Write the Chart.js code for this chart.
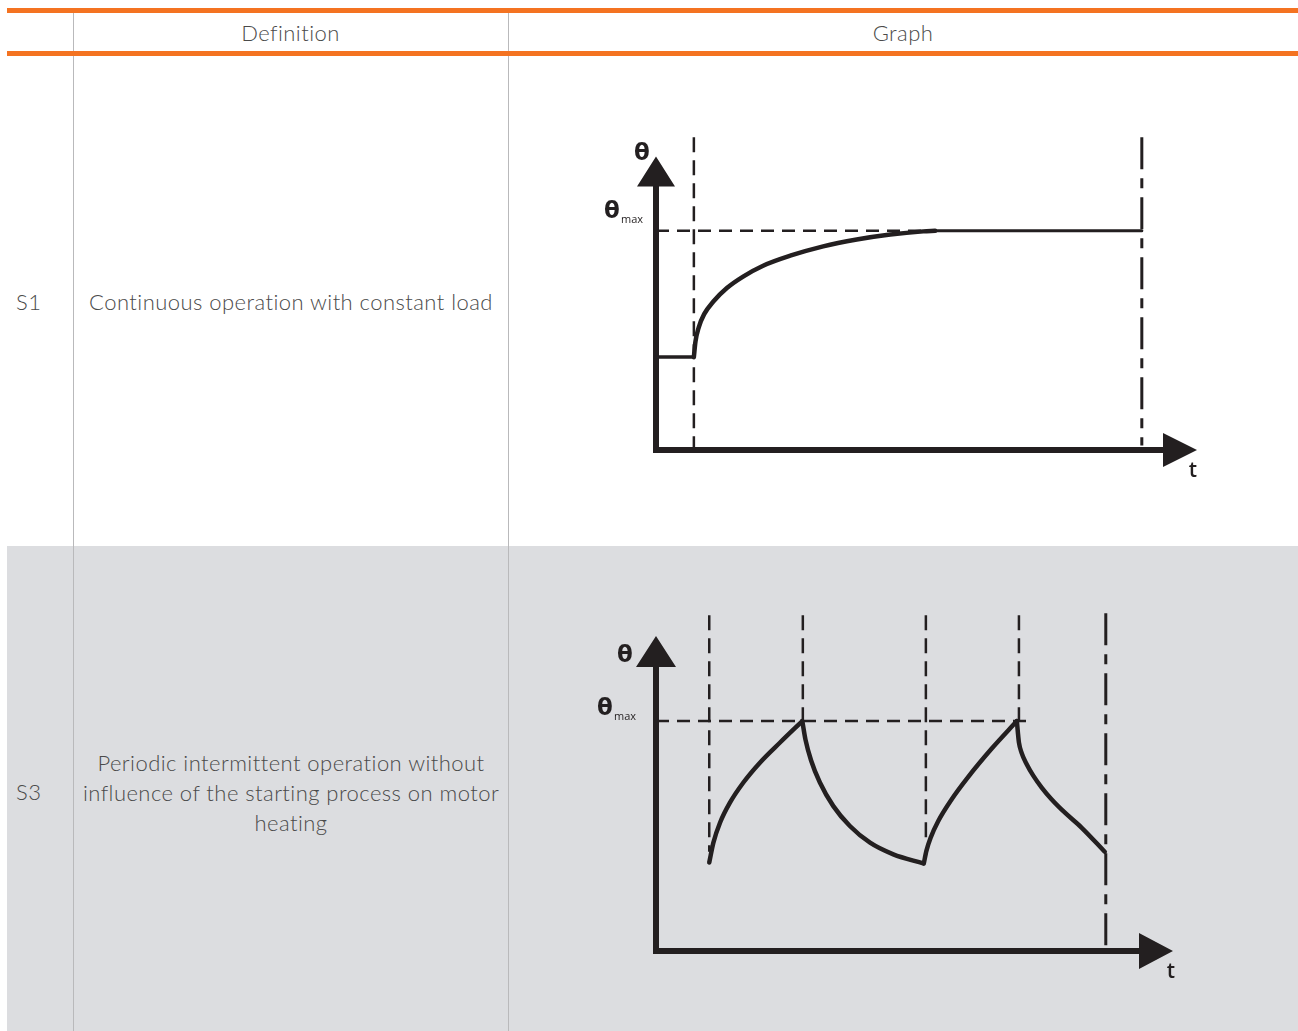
<!DOCTYPE html>
<html>
<head>
<meta charset="utf-8">
<script src="https://cdn.jsdelivr.net/npm/chart.js@4.4.1/dist/chart.umd.min.js"></script>
<style>
  html, body { margin: 0; padding: 0; background: #fff; }
  #page { position: relative; width: 1298px; height: 1031px; overflow: hidden;
          font-family: Lato, "Open Sans", sans-serif; font-weight: 300; color: #4a4a4a; }
  .band { position: absolute; left: 7px; width: 1291px; }
  .orange { height: 5px; background: #f47321; }
  .grey { top: 546px; height: 485px; background: #dcdde0; }
  .vline { position: absolute; top: 8px; bottom: 0; width: 1px; background: #b9b9bb; }
  .txt { position: absolute; text-align: center; font-size: 22px; line-height: 30px; letter-spacing: 0.45px; }
  .graph { position: absolute; left: 509px; width: 789px; }
</style>
</head>
<body>
<div id="page">
  <div class="band grey"></div>
  <div class="vline" style="left:73px"></div>
  <div class="vline" style="left:508px"></div>
  <div class="band orange" style="top:8px"></div>
  <div class="band orange" style="top:51px"></div>

  <div class="txt" style="left:73px;width:435px;top:18px">Definition</div>
  <div class="txt" style="left:508px;width:790px;top:18px">Graph</div>

  <div class="txt" style="left:10px;width:40px;top:287px;text-align:left;padding-left:6px">S1</div>
  <div class="txt" style="left:74px;width:434px;top:287px">Continuous operation with constant load</div>

  <div class="txt" style="left:10px;width:40px;top:777px;text-align:left;padding-left:6px">S3</div>
  <div class="txt" style="left:76px;width:430px;top:748px">Periodic intermittent operation without influence of the starting process on motor heating</div>

  <div class="graph" style="top:57px;height:489px"><canvas id="s1"></canvas></div>
  <div class="graph" style="top:547px;height:484px"><canvas id="s3"></canvas></div>
</div>

<script>
const INK = '#231f20';

// S1 - continuous operation: temperature rises to theta max and stays there
const s1ThetaMax = 74.7;
const s1Idle = [{ x: 0, y: 31.7 }, { x: 7.0, y: 31.7 }];
const s1Rise = [
  { x: 7.0, y: 31.7 }, { x: 7.3, y: 37.0 }, { x: 7.9, y: 41.8 }, { x: 8.9, y: 46.3 },
  { x: 10.6, y: 50.6 }, { x: 13.1, y: 55.2 }, { x: 16.1, y: 59.1 }, { x: 19.8, y: 62.8 },
  { x: 24.8, y: 66.2 }, { x: 30.9, y: 69.4 }, { x: 37.1, y: 71.7 }, { x: 43.3, y: 73.4 },
  { x: 49.4, y: 74.5 }, { x: 51.6, y: 74.7 }
];
const s1Plateau = [{ x: 51.6, y: 74.7 }, { x: 89.8, y: 74.7 }];
const s1Start = 7.0;
const s1End = 89.8;

// S3 - periodic intermittent operation: heating / cooling cycles
const s3ThetaMax = 73.0;
const s3Heat1 = [
  { x: 10.3, y: 28.1 }, { x: 11.1, y: 34.4 }, { x: 12.4, y: 40.8 }, { x: 14.3, y: 47.1 },
  { x: 16.9, y: 53.5 }, { x: 20.1, y: 59.8 }, { x: 24.0, y: 66.2 }, { x: 28.3, y: 73.0 }
];
const s3Cool1 = [
  { x: 28.3, y: 73.0 }, { x: 28.9, y: 67.2 }, { x: 30.0, y: 60.5 }, { x: 31.7, y: 53.5 },
  { x: 34.3, y: 46.0 }, { x: 37.5, y: 39.7 }, { x: 41.4, y: 34.4 }, { x: 45.9, y: 30.7 },
  { x: 51.7, y: 27.8 }
];
const s3Heat2 = [
  { x: 51.8, y: 27.8 }, { x: 52.3, y: 31.8 }, { x: 53.1, y: 35.9 }, { x: 54.6, y: 41.3 },
  { x: 57.2, y: 48.2 }, { x: 60.4, y: 55.3 }, { x: 64.9, y: 64.2 }, { x: 69.8, y: 73.0 }
];
const s3Cool2 = [
  { x: 69.8, y: 73.0 }, { x: 70.0, y: 69.3 }, { x: 70.2, y: 66.2 }, { x: 70.7, y: 63.0 },
  { x: 71.7, y: 59.3 }, { x: 73.0, y: 55.6 }, { x: 74.6, y: 51.9 }, { x: 76.5, y: 48.2 },
  { x: 79.1, y: 43.9 }, { x: 82.3, y: 39.2 }, { x: 86.8, y: 31.5 }
];
const s3Switches = [10.3, 28.4, 52.2, 70.2];
const s3SwitchLow = [31.5, 73.0, 34.5, 73.0];
const s3End = 87.0;

const TOP = 106.6;   // dashed guides run a bit above the arrow tip

function curve(data, width) {
  return { data, borderColor: INK, borderWidth: width, pointRadius: 0,
           cubicInterpolationMode: 'monotone', fill: false, clip: false, borderCapStyle: 'round' };
}
function guide(data, dash, width) {
  return { data, borderColor: INK, borderWidth: width || 2.5, borderDash: dash,
           pointRadius: 0, tension: 0, fill: false, clip: false, borderCapStyle: 'butt' };
}

// axes with arrow heads and the theta / t labels
const axisArrows = {
  id: 'axisArrows',
  beforeDatasetsDraw(chart) {
    const o = chart.options.plugins.axisArrows;
    const { ctx, scales: { x, y } } = chart;
    const x0 = x.getPixelForValue(0), y0 = y.getPixelForValue(0);
    const xTip = x.getPixelForValue(100), yTip = y.getPixelForValue(100);
    ctx.save();
    ctx.strokeStyle = INK; ctx.fillStyle = INK; ctx.lineWidth = 6;
    ctx.beginPath();
    ctx.moveTo(x0, y0 + 3); ctx.lineTo(x0, yTip + 20);
    ctx.moveTo(x0 - 3, y0); ctx.lineTo(xTip - 20, y0);
    ctx.stroke();
    ctx.beginPath();
    ctx.moveTo(x0, yTip); ctx.lineTo(x0 - o.yHead[1], yTip + o.yHead[0]);
    ctx.lineTo(x0 + o.yHead[1], yTip + o.yHead[0]); ctx.closePath();
    ctx.moveTo(xTip, y0); ctx.lineTo(xTip - o.xHead[0], y0 - o.xHead[1]);
    ctx.lineTo(xTip - o.xHead[0], y0 + o.xHead[1]); ctx.closePath();
    ctx.fill();

    const yMax = y.getPixelForValue(o.thetaMax);
    ctx.textAlign = 'center'; ctx.textBaseline = 'middle';
    ctx.font = '600 23px "DejaVu Sans", sans-serif';
    ctx.fillText('θ', x0 + o.theta[0], yTip + o.theta[1]);
    ctx.fillText('θ', x0 + o.thetaMaxPos[0], yMax + o.thetaMaxPos[1]);
    ctx.textAlign = 'left';
    ctx.font = '400 11px "Open Sans", sans-serif';
    ctx.fillText('max', x0 + o.thetaMaxPos[0] + 9, yMax + o.thetaMaxPos[1] + 8);
    ctx.textAlign = 'center';
    ctx.font = '600 21px "Open Sans", sans-serif';
    ctx.fillText('t', xTip + o.t[0], y0 + o.t[1]);
    ctx.restore();
  }
};

function makeChart(id, datasets, padding, arrows) {
  return new Chart(document.getElementById(id), {
    type: 'line',
    data: { datasets },
    options: {
      responsive: true,
      maintainAspectRatio: false,
      animation: false,
      layout: { padding },
      scales: {
        x: { type: 'linear', min: 0, max: 100, display: false },
        y: { type: 'linear', min: 0, max: TOP + 0.4, display: false }
      },
      plugins: { legend: { display: false }, tooltip: { enabled: false }, axisArrows: arrows }
    },
    plugins: [axisArrows]
  });
}

makeChart('s1', [
  guide([{ x: s1Start, y: TOP }, { x: s1Start, y: 0 }], [15, 8]),
  guide([{ x: 0, y: s1ThetaMax }, { x: 51.6, y: s1ThetaMax }], [13, 8]),
  guide([{ x: s1End, y: TOP }, { x: s1End, y: 1.5 }], [32, 9, 10, 9], 3),
  curve(s1Idle, 3.5),
  curve(s1Rise, 4.5),
  curve(s1Plateau, 3)
], { left: 147, right: 101, top: 79, bottom: 96 }, {
  thetaMax: s1ThetaMax, yHead: [30, 19], xHead: [34, 17],
  theta: [-14, -3], thetaMaxPos: [-44, -19], t: [-4, 21]
});

makeChart('s3', [
  ...s3Switches.map((sx, i) => guide([{ x: sx, y: TOP }, { x: sx, y: s3SwitchLow[i] }], [15, 8])),
  guide([{ x: 0, y: s3ThetaMax }, { x: 72.9, y: s3ThetaMax }], [13, 8]),
  guide([{ x: s3End, y: TOP + 0.6 }, { x: s3End, y: 1 }], [32, 9, 10, 9], 3),
  curve(s3Heat1, 4.5),
  curve(s3Cool1, 4.5),
  curve(s3Heat2, 4.5),
  curve(s3Cool2, 4.5)
], { left: 147, right: 125, top: 67, bottom: 80 }, {
  thetaMax: s3ThetaMax, yHead: [31, 20], xHead: [34, 18],
  theta: [-31, 20], thetaMaxPos: [-51, -12], t: [-2, 21]
});
</script>
</body>
</html>
